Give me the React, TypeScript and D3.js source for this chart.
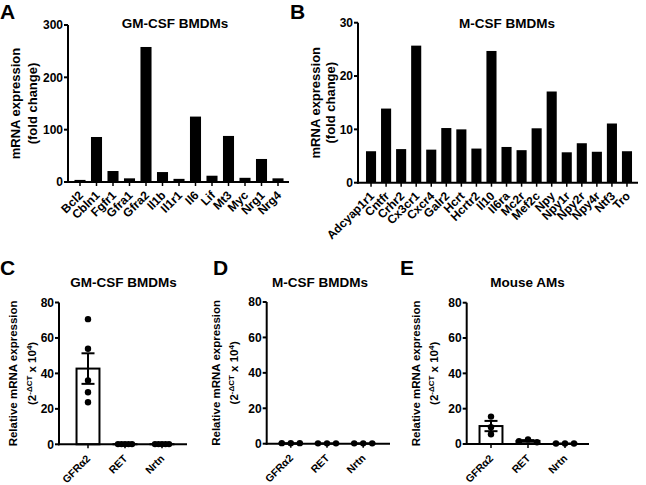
import React from 'react';
import * as d3 from 'd3';

const FONT = "Arial, 'Liberation Sans', Helvetica, sans-serif";
const W = 646;
const H = 485;

// Panel A — GM-CSF BMDMs fold change
const genesA = ['Bcl2', 'Cbln1', 'Fgfr1', 'Gfra1', 'Gfra2', 'Il1b', 'Il1r1', 'Il6', 'Lif', 'Mt3', 'Myc', 'Nrg1', 'Nrg4'];
const foldA = [4, 86, 21, 7, 258, 19, 6, 125, 12, 88, 8, 44, 7];
const ticksA = [0, 100, 200, 300];

// Panel B — M-CSF BMDMs fold change
const genesB = ['Adcyap1r1', 'Cntfr', 'Crhr2', 'Cx3cr1', 'Cxcr4', 'Galr2', 'Hcrt', 'Hcrtr2', 'Il10', 'Il6ra', 'Mc2r', 'Mef2c', 'Npy', 'Npy1r', 'Npy2r', 'Npy4r', 'Ntf3', 'Tro'];
const foldB = [5.9, 13.9, 6.3, 25.7, 6.2, 10.25, 10.0, 6.4, 24.7, 6.7, 6.1, 10.2, 17.1, 5.7, 7.4, 5.8, 11.1, 5.9];
const ticksB = [0, 10, 20, 30];

// Panels C–E — relative expression (2^-ΔCT x 10^4)
const targets = ['GFRα2', 'RET', 'Nrtn'];
const ticksRel = [0, 20, 40, 60, 80];
const gmGfra2 = [70.6, 53.9, 36, 29.4, 23.7];
const gmRet = [0.1, 0.1, 0.1, 0.1, 0.1];
const gmNrtn = [0.1, 0.1, 0.1, 0.1, 0.1];
const mGfra2 = [0.3, 0.3, 0.3];
const mRet = [0.2, 0.2, 0.2];
const mNrtn = [0.2, 0.2, 0.2];
const amGfra2 = [15.5, 9.5, 5.5];
const amRet = [2.6, 1.6, 1.0];
const amNrtn = [0.3, 0.3, 0.3];

const TICK = 4;
const SW = 2;

function BarPanel(props: any) {
  const { genes, values, ticks, axisX, axisEnd, yTop, yBottom, bandStart, bandEnd, title, titleX, l1X, l2X, letter, letterX } = props;
  const y = d3.scaleLinear().domain([0, ticks[ticks.length - 1]]).range([yBottom, yTop]);
  const x = d3.scaleBand<string>().domain(genes).range([bandStart, bandEnd]).paddingInner(0.33).paddingOuter(0.165);
  const cy = (yTop + yBottom) / 2;
  return (
    <g>
      <text x={letterX} y={18.5} fontSize={21}>{letter}</text>
      <text x={titleX} y={28} fontSize={13.5} textAnchor="middle">{title}</text>
      <text transform={`translate(${l1X},${cy}) rotate(-90)`} fontSize={13} textAnchor="middle">mRNA expression</text>
      <text transform={`translate(${l2X},${cy}) rotate(-90)`} fontSize={13} textAnchor="middle">(fold change)</text>
      {genes.map((g: string, i: number) => (
        <rect key={g} x={x(g)} width={x.bandwidth()} y={y(values[i])} height={y(0) - y(values[i])} fill="#000" />
      ))}
      <line x1={axisX} x2={axisX} y1={yTop} y2={yBottom + SW / 2} stroke="#000" strokeWidth={SW} />
      <line x1={axisX - SW / 2} x2={axisEnd} y1={yBottom} y2={yBottom} stroke="#000" strokeWidth={SW} />
      {ticks.map((t: number) => (
        <g key={t}>
          <line x1={axisX - TICK} x2={axisX} y1={y(t)} y2={y(t)} stroke="#000" strokeWidth={SW} />
          <text x={axisX - TICK - 1} y={y(t)} dy="0.36em" fontSize={12} textAnchor="end">{t}</text>
        </g>
      ))}
      {genes.map((g: string) => {
        const cx = (x(g) as number) + x.bandwidth() / 2;
        return (
          <g key={g}>
            <line x1={cx} x2={cx} y1={yBottom} y2={yBottom + TICK} stroke="#000" strokeWidth={1.5} />
            <text transform={`translate(${cx + 4},${yBottom + 14}) rotate(-45)`} fontSize={12} textAnchor="end">{g}</text>
          </g>
        );
      })}
    </g>
  );
}

function swarmOffsets(vals: number[], y: any, r: number, spread: number) {
  const idx = vals.map((v, i) => i).sort((a, b) => vals[b] - vals[a]);
  const offs = new Array(vals.length).fill(0);
  let cluster: number[] = [];
  const flush = () => {
    const k = cluster.length;
    if (k > 1) {
      const positions = d3.range(k).map((j) => -spread / 2 + (spread * j) / (k - 1));
      const mid = Math.floor(k / 2);
      const assign: number[] = [positions[mid]];
      for (let s = 1; assign.length < k; s++) {
        if (mid - s >= 0) assign.push(positions[mid - s]);
        if (mid + s < k) assign.push(positions[mid + s]);
      }
      cluster.forEach((id, j) => (offs[id] = assign[j]));
    }
    cluster = [];
  };
  idx.forEach((id) => {
    if (cluster.length && Math.abs(y(vals[cluster[cluster.length - 1]]) - y(vals[id])) >= 2 * r) flush();
    cluster.push(id);
  });
  flush();
  return offs;
}

function RelPanel(props: any) {
  const { groups, axisX, axisEnd, yTop, yBottom, bandStart, bandEnd, title, titleX, l1X, l2X, letter, letterX, spread } = props;
  const y = d3.scaleLinear().domain([0, ticksRel[ticksRel.length - 1]]).range([yBottom, yTop]);
  const x = d3.scaleBand<string>().domain(targets).range([bandStart, bandEnd]).paddingInner(0.38).paddingOuter(0.19);
  const cy = (yTop + yBottom) / 2;
  const r = 3.2;
  return (
    <g>
      <text x={letterX} y={275} fontSize={21}>{letter}</text>
      <text x={titleX} y={286.5} fontSize={13.5} textAnchor="middle">{title}</text>
      <text transform={`translate(${l1X},${cy}) rotate(-90)`} fontSize={11.5} textAnchor="middle">Relative mRNA expression</text>
      <text transform={`translate(${l2X},${cy}) rotate(-90)`} fontSize={11.5} textAnchor="middle">
        (2<tspan fontSize={8} dy={-4.5}>-ΔCT</tspan>
        <tspan dy={4.5}> x 10</tspan>
        <tspan fontSize={8} dy={-4.5}>4</tspan>
        <tspan dy={4.5}>)</tspan>
      </text>
      {targets.map((t: string, i: number) => {
        const vals: number[] = groups[i];
        const m = d3.mean(vals) as number;
        const sd = vals.length > 1 ? (d3.deviation(vals) as number) : 0;
        const sem = sd / Math.sqrt(vals.length);
        const cx = (x(t) as number) + x.bandwidth() / 2;
        const offs = swarmOffsets(vals, y, r, spread);
        return (
          <g key={t}>
            <rect x={x(t)} width={x.bandwidth()} y={y(m)} height={Math.max(0, y(0) - y(m))} fill="#fff" stroke="#000" strokeWidth={SW} />
            {sem > 0.05 && (
              <g stroke="#000" strokeWidth={SW}>
                <line x1={cx} x2={cx} y1={y(m - sem)} y2={y(m + sem)} />
                <line x1={cx - 6.5} x2={cx + 6.5} y1={y(m + sem)} y2={y(m + sem)} />
                <line x1={cx - 6.5} x2={cx + 6.5} y1={y(m - sem)} y2={y(m - sem)} />
              </g>
            )}
            {vals.map((v, j) => (
              <circle key={j} cx={cx + offs[j]} cy={y(v)} r={r} fill="#000" />
            ))}
          </g>
        );
      })}
      <line x1={axisX} x2={axisX} y1={yTop} y2={yBottom + SW / 2} stroke="#000" strokeWidth={SW} />
      <line x1={axisX - SW / 2} x2={axisEnd} y1={yBottom} y2={yBottom} stroke="#000" strokeWidth={SW} />
      {ticksRel.map((t: number) => (
        <g key={t}>
          <line x1={axisX - TICK} x2={axisX} y1={y(t)} y2={y(t)} stroke="#000" strokeWidth={SW} />
          <text x={axisX - TICK - 1} y={y(t)} dy="0.36em" fontSize={12} textAnchor="end">{t}</text>
        </g>
      ))}
      {targets.map((t: string) => {
        const cx = (x(t) as number) + x.bandwidth() / 2;
        return (
          <g key={t}>
            <line x1={cx} x2={cx} y1={yBottom} y2={yBottom + TICK} stroke="#000" strokeWidth={1.5} />
            <text transform={`translate(${cx + 3},${yBottom + 15}) rotate(-45)`} fontSize={10.5} textAnchor="end">{t}</text>
          </g>
        );
      })}
    </g>
  );
}

export default function App() {
  return (
    <svg width={W} height={H} style={{ position: 'absolute', left: 0, top: 0, display: 'block' }} fontFamily={FONT} fontWeight="bold">
      <rect width={W} height={H} fill="#fff" />
      <BarPanel genes={genesA} values={foldA} ticks={ticksA} axisX={68} axisEnd={289} yTop={25} yBottom={182}
        bandStart={71.75} bandEnd={286.25} title="GM-CSF BMDMs" titleX={175} l1X={20} l2X={37} letter="A" letterX={0} />
      <BarPanel genes={genesB} values={foldB} ticks={ticksB} axisX={358} axisEnd={638} yTop={22.7} yBottom={182.7}
        bandStart={363.5} bandEnd={634.5} title="M-CSF BMDMs" titleX={507} l1X={320} l2X={335} letter="B" letterX={290} />
      <RelPanel groups={[gmGfra2, gmRet, gmNrtn]} axisX={59} axisEnd={187} yTop={302.5} yBottom={444.3}
        bandStart={69.5} bandEnd={180.5} title="GM-CSF BMDMs" titleX={123.5} l1X={17} l2X={36} letter="C" letterX={0} spread={14} />
      <RelPanel groups={[mGfra2, mRet, mNrtn]} axisX={266.7} axisEnd={390} yTop={302} yBottom={443.7}
        bandStart={272.7} bandEnd={381.3} title="M-CSF BMDMs" titleX={320} l1X={220} l2X={238} letter="D" letterX={213} spread={18} />
      <RelPanel groups={[amGfra2, amRet, amNrtn]} axisX={466.7} axisEnd={589} yTop={302.7} yBottom={444}
        bandStart={472.5} bandEnd={583.5} title="Mouse AMs" titleX={527.5} l1X={420} l2X={438} letter="E" letterX={400} spread={18} />
    </svg>
  );
}
